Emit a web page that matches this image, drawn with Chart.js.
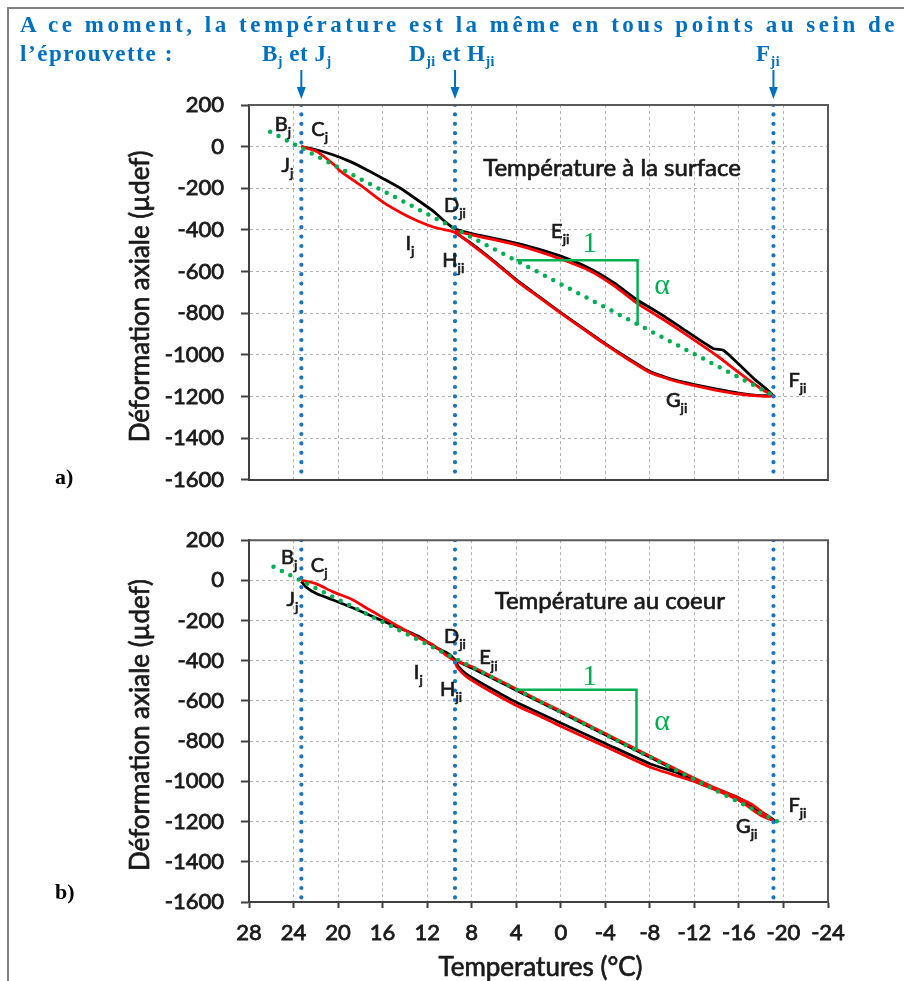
<!DOCTYPE html>
<html>
<head>
<meta charset="utf-8">
<script src="https://cdn.jsdelivr.net/npm/chart.js@4/dist/chart.umd.min.js"></script>
<style>
body { margin:0; background:#fff; width:904px; height:981px; overflow:hidden; position:relative; }
#frame { position:absolute; left:7px; top:7px; width:1000px; height:1000px; border-left:2px solid #808080; border-top:2px solid #808080; }
canvas { position:absolute; left:0; }
.hd { position:absolute; font:bold 23px "Liberation Serif"; line-height:26px; color:#0070c0; white-space:nowrap; z-index:2; }
.hd sub { font-size:14px; vertical-align:-5px; }
.pl { position:absolute; font:bold 22px "Liberation Serif"; color:#000; z-index:2; }
</style>
</head>
<body>
<div id="frame"></div>
<div class="hd" id="line1" style="left:20px;top:12px">A ce moment, la température est la même en tous points au sein de</div>
<div class="hd" id="line2" style="left:20px;top:41px">l’éprouvette :</div>
<div class="hd mk" style="left:262px;top:41px">B<sub>j</sub> et J<sub>j</sub></div>
<div class="hd mk" style="left:409px;top:41px">D<sub>ji</sub> et H<sub>ji</sub></div>
<div class="hd mk" style="left:756px;top:41px">F<sub>ji</sub></div>
<div class="pl" style="left:55px;top:464px">a)</div>
<div class="pl" style="left:55px;top:879px">b)</div>
<canvas id="surf" width="904" height="510" style="top:0"></canvas>
<canvas id="core" width="904" height="471" style="top:510px"></canvas>
<script>
const xTicks = [28, 24, 20, 16, 12, 8, 4, 0, -4, -8, -12, -16, -20, -24];
const yTicks = [200, 0, -200, -400, -600, -800, -1000, -1200, -1400, -1600];
// Bj/Jj, Dji/Hji, Fji
const markerTemps = [23.3, 9.5, -19.1];

// a) température à la surface
const surfBlack = [[23.3,0],[22,-15],[20.4,-40],[18.9,-72],[17.4,-112],[15.9,-155],[14.4,-200],[12.9,-255],[11.4,-312],[10.4,-360],[9.5,-395],
  [8,-418],[6,-440],[4,-463],[2,-492],[0,-526],[-2.6,-585],[-4.8,-655],[-6.8,-734],[-9,-805],[-11,-876],[-13.7,-970],[-14.6,-978],[-15.6,-1025],[-17.3,-1112],[-19,-1192],
  [-18,-1196],[-16,-1184],[-14,-1165],[-12,-1143],[-10,-1118],[-9,-1100],[-8,-1080],[-6,-1015],[-4,-946],[-2,-872],[0,-797],[2,-718],[4,-639],[6,-550],[8,-466],[9.5,-412]];
const surfRed = [[9.5,-405],[8,-424],[6,-447],[4,-472],[2,-503],[0,-540],[-2.6,-596],[-4.8,-668],[-6.8,-750],[-9,-823],[-11,-893],[-14,-1003],[-16,-1085],[-18.2,-1170],[-19.2,-1198],
  [-18,-1198],[-16,-1188],[-14,-1170],[-12,-1148],[-10,-1122],[-9,-1104],[-8,-1085],[-6,-1020],[-4,-950],[-2,-875],[0,-800],[2,-722],[4,-643],[6,-553],[8,-470],[9.5,-412],
  [10.5,-398],[11.4,-387],[12.9,-356],[14.4,-316],[15.9,-269],[18,-185],[19.8,-118],[20.4,-85],[21.9,-24],[23.3,0]];
const surfFit = [[26.1,72],[-19.2,-1198]];
const surfTri = [[4,-545],[-6.9,-545],[-6.9,-857]];

// b) température au coeur
const coreBlack = [[23.3,-5],[22.9,-32],[22,-64],[20.5,-96],[18.7,-136],[15.7,-208],[12.7,-280],[11.5,-325],[10,-368],[9.5,-395],
  [8,-436],[6,-490],[4,-546],[0,-656],[-4,-768],[-8,-880],[-12,-990],[-16,-1092],[-18.5,-1168],[-19.2,-1195],
  [-18.5,-1172],[-16,-1082],[-12.8,-1016],[-11,-976],[-10.5,-958],[-8,-912],[-4,-811],[0,-709],[4,-606],[7,-515],[8.5,-465],[9.2,-428],[9.5,-400]];
const coreRed = [[23.3,0],[22,-16],[20.5,-56],[18.7,-96],[17.5,-136],[16,-184],[14.5,-232],[12.7,-288],[11.5,-320],[10.2,-376],[9.5,-400],
  [8,-428],[6,-484],[4,-540],[2,-596],[0,-650],[-2,-706],[-4,-762],[-6,-818],[-8,-874],[-10,-930],[-12,-984],[-14,-1036],[-16,-1084],[-17.1,-1112],[-18.3,-1162],[-19,-1192],
  [-18,-1170],[-16,-1094],[-14,-1045],[-12,-1000],[-10,-965],[-8,-928],[-4,-826],[0,-726],[2,-672],[4,-622],[7,-530],[8.5,-478],[9.3,-432],[9.5,-405]];
const coreFit = [[25.8,68],[-19.75,-1208]];
const coreTri = [[3.95,-544],[-6.8,-544],[-6.8,-845]];

const surfNotes = {
  title: 'Température à la surface', titleAt: [-4.6, -106], one: [-2.6, -469], alpha: [-9.1, -672], arrows: true, xTitle: false,
  labels: [['B','j',25.1,106],['C','j',21.8,82],['J','j',24.7,-92],['D','ji',9.8,-281],['I','j',13.7,-464],
           ['H','ji',9.95,-545],['E','ji',0.35,-408],['F','ji',-20.95,-1124],['G','ji',-10.1,-1218]]
};
const coreNotes = {
  title: 'Température au coeur', titleAt: [-4.4, -102], one: [-2.6, -482], alpha: [-9.1, -703], arrows: false, xTitle: true,
  labels: [['B','j',24.55,114],['C','j',21.85,75],['J','j',24.25,-93],['D','ji',9.8,-280],['I','j',12.95,-458],
           ['H','ji',10.15,-544],['E','ji',6.8,-386],['F','ji',-20.95,-1120],['G','ji',-16.4,-1226]]
};

function pts(a) { return a.map(p => ({ x: p[0], y: p[1] })); }

// fill + thin stroke so the Lato text looks as heavy as the original
function txt(ctx, s, x, y) {
  ctx.fillText(s, x, y);
  ctx.strokeText(s, x, y);
}

function sub(ctx, x, y, main, s) {
  ctx.textAlign = 'left';
  ctx.textBaseline = 'middle';
  ctx.font = '20px Lato';
  const w = ctx.measureText(main).width;
  txt(ctx, main, x - w / 2, y);
  ctx.font = '14px Lato';
  txt(ctx, s, x + w / 2, y + 8);
}

const notesPlugin = {
  id: 'notes',
  afterDatasetsDraw(chart, args, o) {
    const { ctx, chartArea: a, scales: { x, y } } = chart;
    ctx.save();
    ctx.strokeStyle = '#595959';
    ctx.lineWidth = 2;
    ctx.beginPath();
    ctx.moveTo(a.left, a.top);
    ctx.lineTo(a.right, a.top);
    ctx.lineTo(a.right, a.bottom);
    ctx.stroke();

    ctx.fillStyle = '#1a1a1a';
    ctx.strokeStyle = '#1a1a1a';
    ctx.lineWidth = 0.7;
    ctx.font = '24px Lato';
    ctx.textAlign = 'center';
    ctx.textBaseline = 'middle';
    txt(ctx, o.title, x.getPixelForValue(o.titleAt[0]), y.getPixelForValue(o.titleAt[1]));
    o.labels.forEach(l => sub(ctx, x.getPixelForValue(l[2]), y.getPixelForValue(l[3]), l[0], l[1]));

    // axis titles
    ctx.font = '26px Lato';
    ctx.textAlign = 'center';
    ctx.textBaseline = 'middle';
    ctx.save();
    ctx.translate(141, (a.top + a.bottom) / 2 + 4);
    ctx.rotate(-Math.PI / 2);
    txt(ctx, 'Déformation axiale (µdef)', 0, 0);
    ctx.restore();
    if (o.xTitle) txt(ctx, 'Temperatures (°C)', (a.left + a.right) / 2 + 2, chart.height - 13);

    ctx.fillStyle = '#00b050';
    ctx.font = '30px "Liberation Serif"';
    ctx.textAlign = 'center';
    ctx.fillText('1', x.getPixelForValue(o.one[0]), y.getPixelForValue(o.one[1]));
    ctx.fillText('α', x.getPixelForValue(o.alpha[0]), y.getPixelForValue(o.alpha[1]));

    if (o.arrows) {
      ctx.strokeStyle = '#0070c0';
      ctx.fillStyle = '#0070c0';
      ctx.lineWidth = 2;
      markerTemps.forEach(t => {
        const px = x.getPixelForValue(t);
        ctx.beginPath();
        ctx.moveTo(px, 70);
        ctx.lineTo(px, 90);
        ctx.stroke();
        ctx.beginPath();
        ctx.moveTo(px - 4.5, 87);
        ctx.lineTo(px + 4.5, 87);
        ctx.lineTo(px, 99);
        ctx.closePath();
        ctx.fill();
      });
    }
    ctx.restore();
  }
};

function datasets(black, red, fit, tri) {
  const blue = markerTemps.map(t => ({
    data: [{ x: t, y: 200 }, { x: t, y: -1600 }],
    borderColor: '#1a73c8', borderWidth: 4.2, borderDash: [0, 9.4], borderCapStyle: 'round', order: 0
  }));
  return blue.concat([
    { data: pts(fit), borderColor: '#00b050', borderWidth: 4.5, borderDash: [0, 9.4], borderCapStyle: 'round', order: 1 },
    { data: pts(tri), borderColor: '#00b050', borderWidth: 2.5, order: 2 },
    { data: pts(red), borderColor: '#ff0000', borderWidth: 2.8, tension: 0.25, order: 3 },
    { data: pts(black), borderColor: '#000000', borderWidth: 2.8, tension: 0.2, order: 4 }
  ]).map(d => Object.assign({ showLine: true, pointRadius: 0 }, d));
}

function options(showX, padding, xHeight, notes) {
  const tickFont = { family: 'Lato', size: 22 };
  return {
    responsive: false,
    animation: false,
    events: [],
    layout: { padding },
    plugins: { legend: { display: false }, tooltip: { enabled: false }, notes },
    scales: {
      x: {
        type: 'linear', reverse: true, min: -24, max: 28,
        afterBuildTicks: s => { s.ticks = xTicks.map(v => ({ value: v })); },
        afterFit: s => { s.height = xHeight; },
        ticks: { display: showX, padding: 12, color: '#1a1a1a', font: tickFont, textStrokeColor: '#1a1a1a', textStrokeWidth: 0.8, callback: v => String(v) },
        grid: { color: '#b3b3b3', lineWidth: 1, drawTicks: showX, tickLength: 6, tickColor: '#404040', tickWidth: 2 },
        border: { color: '#404040', width: 2, dash: [3, 3] }
      },
      y: {
        type: 'linear', min: -1600, max: 200,
        afterBuildTicks: s => { s.ticks = yTicks.map(v => ({ value: v })); },
        afterFit: s => { s.width = 249; },
        ticks: { padding: 17, color: '#1a1a1a', font: tickFont, textStrokeColor: '#1a1a1a', textStrokeWidth: 0.8, callback: v => String(v) },
        grid: { color: '#b3b3b3', lineWidth: 1, tickLength: 8, tickColor: '#404040', tickWidth: 2 },
        border: { color: '#404040', width: 2, dash: [3, 3] }
      }
    }
  };
}

new Chart(document.getElementById('surf'), {
  type: 'scatter',
  data: { datasets: datasets(surfBlack, surfRed, surfFit, surfTri) },
  options: options(false, { top: 105, right: 76, bottom: 23, left: 0 }, 0, surfNotes),
  plugins: [notesPlugin]
});

new Chart(document.getElementById('core'), {
  type: 'scatter',
  data: { datasets: datasets(coreBlack, coreRed, coreFit, coreTri) },
  options: options(true, { top: 17, right: 76, bottom: 0, left: 0 }, 79, coreNotes),
  plugins: [notesPlugin]
});

// stretch the header line to the full width like the original
const l1 = document.getElementById('line1');
const ls = (878 - l1.getBoundingClientRect().width) / l1.textContent.length;
l1.style.letterSpacing = ls + 'px';
document.getElementById('line2').style.letterSpacing = (ls * 0.45) + 'px';
document.querySelectorAll('.mk').forEach(el => { el.style.letterSpacing = '0.5px'; });
</script>
</body>
</html>
